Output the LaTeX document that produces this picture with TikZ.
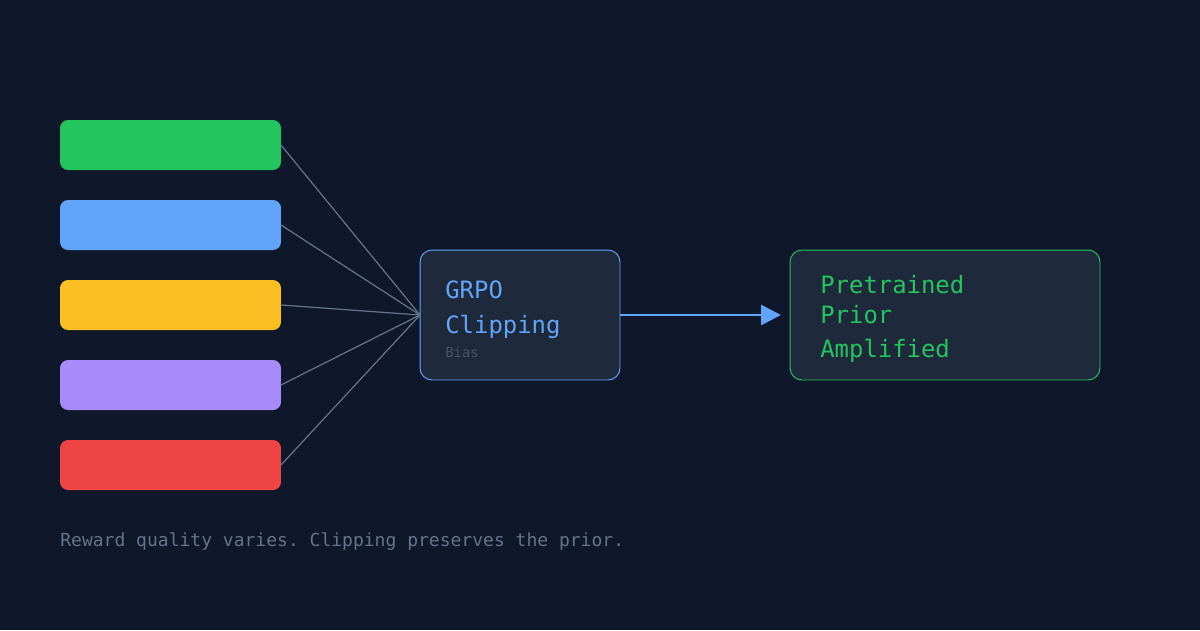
\documentclass[tikz,border=0pt]{standalone}
\usepackage{fontspec}
\setmonofont{DejaVu Sans Mono}
\usepackage{xcolor}
\usepackage{tikz}
\usetikzlibrary{arrows.meta,positioning,calc}
\definecolor{night}{HTML}{0F172A}
\definecolor{slatebox}{HTML}{1E293B}
\definecolor{wire}{HTML}{64748B}
\definecolor{faint}{HTML}{475569}
\definecolor{rgreen}{HTML}{22C55E}
\definecolor{rblue}{HTML}{60A5FA}
\definecolor{ryellow}{HTML}{FBBF24}
\definecolor{rpurple}{HTML}{A78BFA}
\definecolor{rred}{HTML}{EF4444}
\tikzset{
    every picture/.style={line cap=round,line join=round},
    rewardbar/.style={rounded corners=0.16cm,minimum width=4.42cm,
      minimum height=1cm,inner sep=0pt,outer sep=0pt},
    stagebox/.style={fill=slatebox,line width=0.55pt,rounded corners=0.24cm,
      minimum height=2.6cm,inner sep=0pt,outer sep=0pt},
    boxtext/.style={anchor=base west,inner sep=0pt,font=\ttfamily\fontsize{13.6}{15}\selectfont},
    feedline/.style={draw=wire,line width=0.7pt},
    flowarrow/.style={-{Triangle[length=0.4cm,width=0.4cm]},draw=rblue,
      line width=1.5pt,line cap=butt}
}
\begin{document}
\begin{tikzpicture}[x=0.02cm,y=-0.02cm]
  \fill[night] (0,0) rectangle (1200,630);
  % reward bars
  \foreach \i/\c in {1/rgreen,2/rblue,3/ryellow,4/rpurple,5/rred} {
    \node[rewardbar,fill=\c] (r\i) at (170.5,65+80*\i) {};
  }
  % stages
  \node[stagebox,draw=rblue,minimum width=4cm] (grpo) at (520,315) {};
  \node[stagebox,draw=rgreen,minimum width=6.2cm] (prior) at (945,315) {};
  \foreach \i in {1,...,5} {
    \draw[feedline] (r\i.east) -- (grpo.west);
  }
  \coordinate (tip) at (781,315);
  \draw[flowarrow] (grpo.east) -- (tip);
  % labels
  \node[boxtext,text=rblue] (t1) at (445,298) {GRPO};
  \node[boxtext,text=rblue] (t2) at (445,333) {Clipping};
  \node[boxtext,text=faint,font=\ttfamily\fontsize{7.9}{9}\selectfont] (t3) at (445,357) {Bias};
  \node[boxtext,text=rgreen] (p1) at (820,293) {Pretrained};
  \node[boxtext,text=rgreen] (p2) at (820,323) {Prior};
  \node[boxtext,text=rgreen] (p3) at (820,357) {Amplified};
  \node[anchor=base west,inner sep=0pt,text=wire,
    font=\ttfamily\fontsize{10.25}{12}\selectfont] (note) at (60,546)
    {Reward quality varies. Clipping preserves the prior.};
\end{tikzpicture}
\end{document}
